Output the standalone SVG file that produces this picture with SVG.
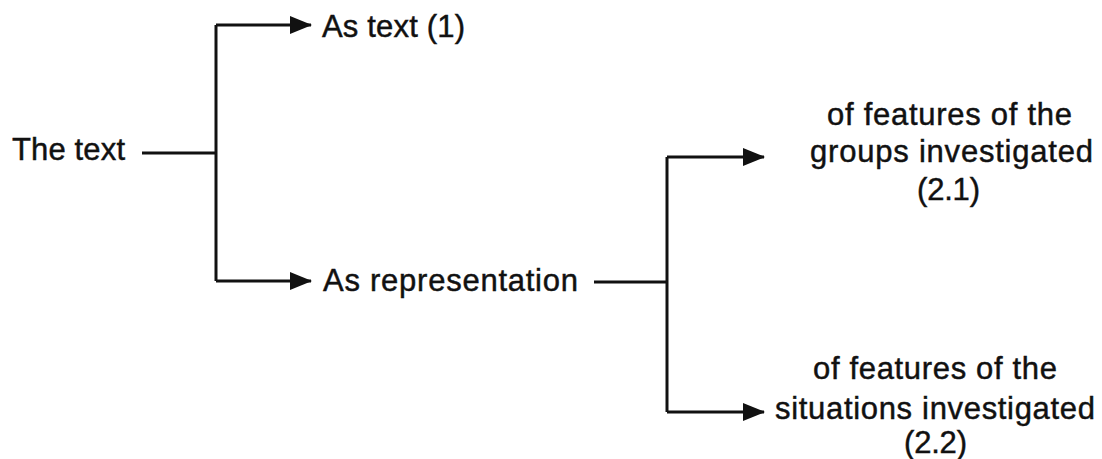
<svg xmlns="http://www.w3.org/2000/svg" width="1102" height="459" viewBox="0 0 1102 459">
  <style>
    .lbl { font-family: "Liberation Sans", Arial, sans-serif; font-size: 31px; fill: #111; stroke: #111; stroke-width: 0.45; }
    .wire { fill: none; stroke: #111; stroke-width: 3; }
  </style>
  <defs>
    <marker id="arrow" markerUnits="userSpaceOnUse" markerWidth="22" markerHeight="18" refX="21" refY="9" orient="auto">
      <path d="M0,0 L22,9 L0,18 Z" fill="#111"/>
    </marker>
  </defs>
  <rect width="1102" height="459" fill="#fff"/>

  <!-- connectors -->
  <g id="connectors">
    <path class="wire" d="M142,153 H216"/>
    <path class="wire" d="M216,25 V281"/>
    <path class="wire" d="M216,25 H311" marker-end="url(#arrow)"/>
    <path class="wire" d="M216,281 H311" marker-end="url(#arrow)"/>
    <path class="wire" d="M594,282 H667"/>
    <path class="wire" d="M667,157 V412"/>
    <path class="wire" d="M667,157 H764" marker-end="url(#arrow)"/>
    <path class="wire" d="M667,412 H764" marker-end="url(#arrow)"/>
  </g>

  <!-- nodes -->
  <g id="node-text">
    <text class="lbl" x="12" y="160" textLength="113">The text</text>
  </g>
  <g id="node-as-text">
    <text class="lbl" x="322" y="37" textLength="143">As text (1)</text>
  </g>
  <g id="node-as-representation">
    <text class="lbl" x="323" y="291" textLength="255">As representation</text>
  </g>
  <g id="node-groups">
    <text class="lbl" x="827" y="125" textLength="245">of features of the</text>
    <text class="lbl" x="810" y="162" textLength="283">groups investigated</text>
    <text class="lbl" x="917" y="200" textLength="63">(2.1)</text>
  </g>
  <g id="node-situations">
    <text class="lbl" x="813" y="379" textLength="244">of features of the</text>
    <text class="lbl" x="775" y="419" textLength="320">situations investigated</text>
    <text class="lbl" x="904" y="453" textLength="63">(2.2)</text>
  </g>
</svg>
